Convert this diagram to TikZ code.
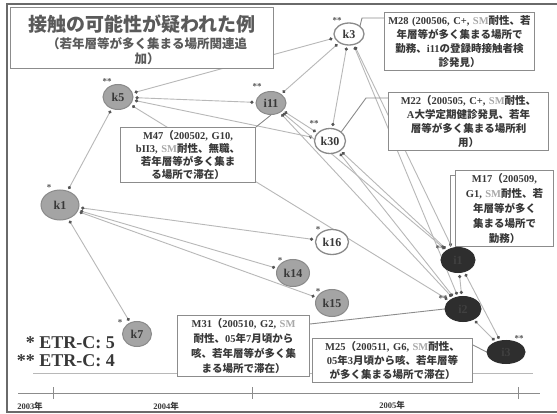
\documentclass[tikz,border=0pt]{standalone}
\usepackage{fontspec}
\setmainfont{Liberation Serif}
\newfontfamily\cjk{Noto Sans CJK JP}
\usetikzlibrary{arrows.meta,shapes.geometric}
\newcommand\J[1]{{\cjk #1}}
\newcommand\SMx[1]{{\color{smc}#1}}
\definecolor{edgec}{HTML}{B8B8B8}
\definecolor{callc}{HTML}{8C8C8C}
\definecolor{framec}{HTML}{6A6A6A}
\definecolor{gfill}{HTML}{A4A4A4}
\definecolor{gbord}{HTML}{8A8A8A}
\definecolor{dfill}{HTML}{2E2E2E}
\definecolor{txtc}{HTML}{383838}
\definecolor{titc}{HTML}{5A5A5A}
\definecolor{smc}{HTML}{A8A8A8}
\definecolor{dotc}{HTML}{555555}
\pgfdeclarelayer{background}
\pgfsetlayers{background,main}
\begin{document}
\begin{tikzpicture}[x=1pt,y=-1pt,
  gnode/.style={ellipse, draw=gbord, fill=gfill, line width=1pt, inner sep=0pt, text=txtc, font=\bfseries\fontsize{12}{12}\selectfont},
  wnode/.style={ellipse, draw=gbord, fill=white, line width=1.3pt, inner sep=0pt, text=txtc, font=\bfseries\fontsize{12}{12}\selectfont},
  dnode/.style={ellipse, draw=dfill, fill=dfill, line width=1pt, inner sep=0pt, text=black!75, font=\bfseries\fontsize{12}{12}\selectfont},
  link/.style={draw=edgec, line width=0.9pt, {Circle[length=3.2pt,color=dotc]}-{Circle[length=3.2pt,color=dotc]}, shorten <=2pt, shorten >=2pt},
  call/.style={draw=callc, line width=0.9pt},
  cbox/.style={draw=callc, fill=white, line width=1pt, anchor=north west, align=center, text=txtc, inner sep=3pt, font=\bfseries\fontsize{10.5}{14}\selectfont},
  ast/.style={text=dotc, font=\bfseries\fontsize{9}{9}\selectfont, inner sep=0pt},
  yrlab/.style={text=txtc, font=\bfseries\fontsize{8.5}{9}\selectfont, inner sep=0pt}
]
\useasboundingbox (0,0) rectangle (557,414);

% title box
\node[draw=callc, fill=white, line width=1pt, anchor=north west, minimum width=263pt, minimum height=61pt, inner sep=0pt] (title) at (10,7) {};
\node[text=titc, font=\bfseries\fontsize{19}{19}\selectfont, inner sep=0pt] (t1) at (142,24) {\J{接触の可能性が疑われた例}};
\node[text=titc, font=\bfseries\fontsize{12.5}{15}\selectfont, inner sep=0pt, align=center] (t2) at (147,51) {\J{（若年層等が多く集まる場所関連追}\\\J{加）}};

% nodes
\node[wnode, minimum width=30pt, minimum height=22pt] (k3) at (349,34) {k3};
\node[gnode, minimum width=30pt, minimum height=25pt] (k5) at (118,97) {k5};
\node[gnode, minimum width=30pt, minimum height=23pt] (i11) at (271,103) {i11};
\node[wnode, minimum width=31pt, minimum height=25pt] (k30) at (330,141) {k30};
\node[gnode, minimum width=38pt, minimum height=30pt] (k1) at (60,205) {k1};
\node[wnode, minimum width=33pt, minimum height=25pt] (k16) at (332,242) {k16};
\node[gnode, minimum width=33pt, minimum height=27pt] (k14) at (293,273) {k14};
\node[gnode, minimum width=33pt, minimum height=27pt] (k15) at (332,303) {k15};
\node[gnode, minimum width=29pt, minimum height=25pt] (k7) at (137,334) {k7};
\node[dnode, minimum width=34pt, minimum height=25pt] (d1) at (458,260) {i1};
\node[dnode, minimum width=36pt, minimum height=25pt] (d2) at (463,309) {i2};
\node[dnode, minimum width=38pt, minimum height=23pt] (d3) at (506,352) {i3};

% asterisk marks
\node[ast] (a3) at (337,21) {**};
\node[ast] (a5) at (107,82) {**};
\node[ast] (a11) at (257,87) {**};
\node[ast] (a30) at (314,124) {**};
\node[ast] (a1) at (49,188) {*};
\node[ast] (a16) at (318,230) {*};
\node[ast] (a14) at (280,261) {*};
\node[ast] (a15) at (318,292) {*};
\node[ast] (a7) at (120,323) {*};
\node[ast] (ad1) at (440,249) {**};
\node[ast] (ad2) at (443,299) {**};
\node[ast] (ad3) at (519,339) {**};

% callout boxes
\node[cbox, text width=144pt] (m28) at (384,12) {M28 (200506, C+, \SMx{SM}\J{耐性、若}\\\J{年層等が多く集まる場所で}\\\J{勤務、}i11\J{の登録時接触者検}\\\J{診発見）}};
\node[cbox, text width=154pt] (m22) at (388,92) {M22\J{（}200505, C+, \SMx{SM}\J{耐性、}\\A\J{大学定期健診発見、若年}\\\J{層等が多く集まる場所利}\\\J{用）}};
\node[cbox, text width=129pt, font=\bfseries\fontsize{10.5}{13}\selectfont] (m47) at (120,127) {M47\J{（}200502, G10,\\bII3, \SMx{SM}\J{耐性、無職、}\\\J{若年層等が多く集ま}\\\J{る場所で滞在）}};
\node[cbox, text width=92pt, font=\bfseries\fontsize{10.5}{15}\selectfont] (m17) at (455,170) {M17\J{（}200509,\\G1, \SMx{SM}\J{耐性、若}\\\J{年層等が多く}\\\J{集まる場所で}\\\J{勤務）}};
\node[cbox, text width=126pt, font=\bfseries\fontsize{10.5}{15}\selectfont] (m31) at (177,315) {M31\J{（}200510, G2, \SMx{SM}\\\J{耐性、}05\J{年}7\J{月頃から}\\\J{咳、若年層等が多く集}\\\J{まる場所で滞在）}};
\node[cbox, text width=154pt] (m25) at (312,338) {M25\J{（}200511, G6, \SMx{SM}\J{耐性、}\\05\J{年}3\J{月頃から咳、若年層等}\\\J{が多く集まる場所で滞在）}};

% legend
\node[anchor=east, text=txtc, font=\bfseries\fontsize{18}{18}\selectfont, inner sep=0pt] (lg1) at (115,343) {* ETR-C: 5};
\node[anchor=east, text=txtc, font=\bfseries\fontsize{18}{18}\selectfont, inner sep=0pt] (lg2) at (115,361) {** ETR-C: 4};

% timeline
\coordinate (tlA) at (18,393);
\coordinate (tlB) at (540,393);
\draw[callc, line width=0.9pt] (tlA) -- (tlB);
\draw[callc, line width=0.9pt] (53,387) -- (53,399) (252,387) -- (252,399) (518,387) -- (518,399);
\node[yrlab] (y3) at (30,406) {2003\J{年}};
\node[yrlab] (y4) at (166,406) {2004\J{年}};
\node[yrlab] (y5) at (392,405) {2005\J{年}};

\begin{pgfonlayer}{background}
  \fill[white] (0,0) rectangle (557,414);
  % frame
  \draw[framec, line width=2.5pt] (557,4) -- (7,4) -- (7,412) -- (557,412);
  \coordinate (sepA) at (33,373);
  \coordinate (sepB) at (533,373);
  \draw[edgec, line width=0.9pt] (sepA) -- (sepB);
  % links
  \draw[link] (k5) -- (k1);
  \draw[link] (k5) -- (k3);
  \draw[link] (k5) -- (i11);
  \draw[link] (k5) -- (k30);
  \draw[link] (k5) -- (d2);
  \draw[link] (i11) -- (k3);
  \draw[link] (k3) -- (k30);
  \draw[link] (k3) -- (d1);
  \draw[link] (k3) -- (d2);
  \draw[link] (i11) -- (k30);
  \draw[link] (i11) -- (d1);
  \draw[link] (i11) -- (d2);
  \draw[link] (k30) -- (d2);
  \draw[link] (k30) -- (d1);
  \draw[link] (k1) -- (k16);
  \draw[link] (k1) -- (k14);
  \draw[link] (k1) -- (k15);
  \draw[link] (k1) -- (k7);
  \draw[link] (d1) -- (d2);
  \draw[link] (d1) -- (d3);
  \draw[link] (d2) -- (d3);
  % callouts
  \draw[call] ([yshift=-6pt]m28.north west) -- ++(-22,0) -- (k3.north east);
  \draw[call] ([yshift=-6pt]m22.north west) -- ++(-22,0) -- (k30.north east);
  \draw[call] (m47.north east) -- (i11.south);
  \draw[call] ([yshift=-5pt]m17.north west) -- ++(-5,0) -- (d1.north -| 450,0);
  \draw[call] ([yshift=-9pt]m31.north east) -- (d2.west);
  \draw[call] ([yshift=-7pt]m25.north east) -- (d3.west);
\end{pgfonlayer}
\end{tikzpicture}
\end{document}
